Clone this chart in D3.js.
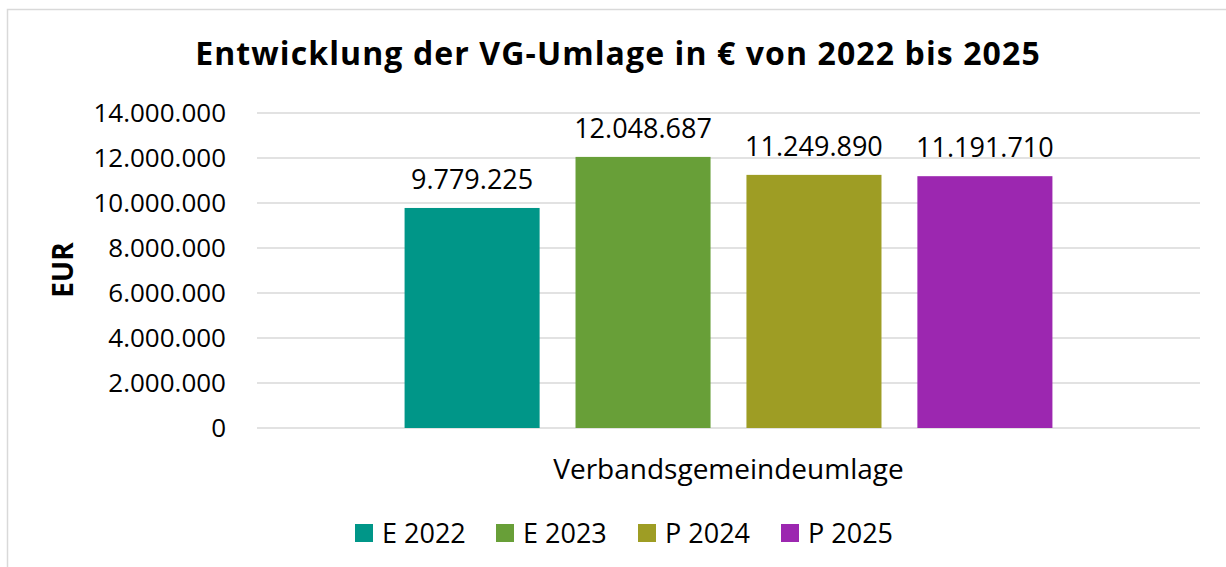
<!DOCTYPE html>
<html lang="de">
<head>
    <meta charset="UTF-8">
    <title>Entwicklung der VG-Umlage</title>
    <script src="https://d3js.org/d3.v7.min.js"></script>
    <style>
        body { margin: 0; background: #fff; }
        svg { display: block; font-family: "Open Sans", sans-serif; }
    </style>
</head>
<body>
    <svg id="chart"></svg>

    <script>
        var category = "Verbandsgemeindeumlage";
        var seriesNames = ["E 2022", "E 2023", "P 2024", "P 2025"];
        var seriesValues = [9779225, 12048687, 11249890, 11191710];
        var seriesColors = ["#009688", "#689f38", "#9e9d24", "#9c27b0"];
        var yTicks = [0, 2000000, 4000000, 6000000, 8000000, 10000000, 12000000, 14000000];

        const W = 1226, H = 567;
        const margin = { top: 113, right: 26, bottom: 139, left: 257 };
        const width = W - margin.left - margin.right;
        const height = H - margin.top - margin.bottom;

        const fmt = d3.formatLocale({ decimal: ",", thousands: ".", grouping: [3], currency: ["", " €"] }).format(",d");

        const root = d3.select("#chart").attr("width", W).attr("height", H);

        // outer chart border (runs off the picture on right and bottom)
        root.append("rect")
            .attr("x", 7.5).attr("y", 9.5)
            .attr("width", 1300).attr("height", 700)
            .attr("fill", "none")
            .attr("stroke", "#d9d9d9")
            .attr("stroke-width", 1.5);

        root.append("text")
            .attr("x", 618).attr("y", 65)
            .attr("text-anchor", "middle")
            .style("font-size", "32px")
            .style("font-weight", "bold")
            .style("letter-spacing", "1.1px")
            .text("Entwicklung der VG-Umlage in € von 2022 bis 2025");

        const svg = root.append("g")
            .attr("transform", `translate(${margin.left}, ${margin.top})`);

        const y = d3.scaleLinear()
            .domain([0, 14000000])
            .range([height, 0]);

        const x0 = d3.scaleBand()
            .domain([category])
            .range([0, width])
            .paddingInner(0)
            .paddingOuter(0);

        // cluster of bars inside the one category
        const clusterW = x0.bandwidth() * 0.687;
        const xs = d3.scaleBand()
            .domain(seriesNames)
            .range([x0(category) + (x0.bandwidth() - clusterW) / 2, x0(category) + (x0.bandwidth() + clusterW) / 2])
            .paddingInner(0.21)
            .paddingOuter(0);

        svg.append("g")
            .selectAll("line")
            .data(yTicks)
            .enter()
            .append("line")
            .attr("x1", 0).attr("x2", width)
            .attr("y1", d => y(d)).attr("y2", d => y(d))
            .attr("stroke", "#d9d9d9")
            .attr("stroke-width", 1.5);

        const yAxis = svg.append("g")
            .call(d3.axisLeft(y).tickValues(yTicks).tickFormat(fmt).tickSize(0).tickPadding(31));
        yAxis.select(".domain").remove();
        yAxis.selectAll("text")
            .style("font-family", "'Open Sans', sans-serif")
            .style("font-size", "26px")
            .attr("fill", "#000");

        const rows = seriesNames.map((s, i) => ({ name: s, value: seriesValues[i], color: seriesColors[i] }));

        svg.selectAll("rect.bar")
            .data(rows)
            .enter()
            .append("rect")
            .attr("class", "bar")
            .attr("x", d => xs(d.name))
            .attr("y", d => y(d.value))
            .attr("width", xs.bandwidth())
            .attr("height", d => height - y(d.value))
            .attr("fill", d => d.color);

        svg.selectAll("text.lbl")
            .data(rows)
            .enter()
            .append("text")
            .attr("class", "lbl")
            .attr("x", d => xs(d.name) + xs.bandwidth() / 2)
            .attr("y", d => y(d.value) - 19)
            .attr("text-anchor", "middle")
            .style("font-size", "27px")
            .text(d => fmt(d.value));

        svg.append("text")
            .attr("x", x0(category) + x0.bandwidth() / 2)
            .attr("y", 479 - margin.top)
            .attr("text-anchor", "middle")
            .style("font-size", "28px")
            .text(category);

        root.append("text")
            .attr("transform", "translate(73, 270) rotate(-90)")
            .attr("text-anchor", "middle")
            .style("font-size", "28px")
            .style("font-weight", "bold")
            .text("EUR");

        // legend
        const legend = root.append("g");
        const lx = [355, 496, 638, 781];
        const items = legend.selectAll("g")
            .data(rows)
            .enter()
            .append("g")
            .attr("transform", (d, i) => `translate(${lx[i]}, 524)`);
        items.append("rect")
            .attr("width", 18).attr("height", 18)
            .attr("fill", d => d.color);
        items.append("text")
            .attr("x", 27).attr("y", 19)
            .style("font-size", "27px")
            .text(d => d.name);
    </script>
</body>
</html>
